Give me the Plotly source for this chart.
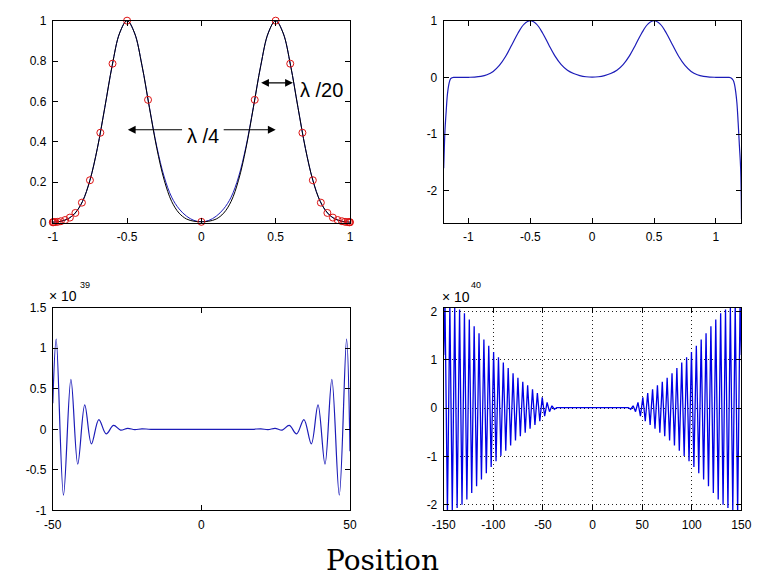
import plotly.graph_objects as go

# ---------------- data ----------------
# top-left: black reference curve, blue fitted curve, red sample points
tl_x = [-1.0, -0.95, -0.9, -0.85, -0.8, -0.75, -0.7, -0.65, -0.6, -0.55, -0.5,
        -0.45, -0.4, -0.35, -0.3, -0.25, -0.2, -0.15, -0.1, -0.05, 0.0,
        0.05, 0.1, 0.15, 0.2, 0.25, 0.3, 0.35, 0.4, 0.45, 0.5,
        0.55, 0.6, 0.65, 0.7, 0.75, 0.8, 0.85, 0.9, 0.95, 1.0]
tl_black = [0.002, 0.006, 0.018, 0.047, 0.105, 0.210, 0.368, 0.570, 0.779, 0.939, 1.000,
            0.939, 0.779, 0.570, 0.368, 0.210, 0.105, 0.047, 0.018, 0.007, 0.004,
            0.007, 0.018, 0.047, 0.105, 0.210, 0.368, 0.570, 0.779, 0.939, 1.000,
            0.939, 0.779, 0.570, 0.368, 0.210, 0.105, 0.047, 0.018, 0.006, 0.002]
tl_blue = [0.002, 0.006, 0.018, 0.047, 0.105, 0.210, 0.368, 0.570, 0.779, 0.939, 1.000,
           0.939, 0.779, 0.572, 0.376, 0.226, 0.126, 0.068, 0.032, 0.011, 0.004,
           0.011, 0.032, 0.068, 0.126, 0.226, 0.376, 0.572, 0.779, 0.939, 1.000,
           0.939, 0.779, 0.570, 0.368, 0.210, 0.105, 0.047, 0.018, 0.006, 0.002]
pts_x = [-1.0, -0.998, -0.993, -0.983, -0.967, -0.946, -0.917, -0.885, -0.848, -0.804,
         -0.75, -0.68, -0.598, -0.5, -0.359, 0.0, 0.359, 0.5, 0.598, 0.68, 0.75,
         0.804, 0.848, 0.885, 0.917, 0.946, 0.967, 0.983, 0.993, 0.998, 1.0]
pts_y = [0.002, 0.002, 0.002, 0.003, 0.004, 0.007, 0.013, 0.025, 0.048, 0.099,
         0.210, 0.445, 0.787, 1.0, 0.608, 0.004, 0.608, 1.0, 0.787, 0.445, 0.210,
         0.099, 0.048, 0.025, 0.013, 0.007, 0.004, 0.003, 0.002, 0.002, 0.002]

# top-right: fitted curve on the wider interval
tr_x = [-1.2, -1.195, -1.19, -1.18, -1.17, -1.16, -1.15, -1.14, -1.12, -1.1, -1.05,
        -1.0, -0.95, -0.9, -0.85, -0.8, -0.75, -0.7, -0.65, -0.6, -0.55, -0.5,
        -0.45, -0.4, -0.35, -0.3, -0.25, -0.2, -0.15, -0.1, -0.05, 0.0,
        0.05, 0.1, 0.15, 0.2, 0.25, 0.3, 0.35, 0.4, 0.45, 0.5,
        0.55, 0.6, 0.65, 0.7, 0.75, 0.8, 0.85, 0.9, 0.95, 1.0,
        1.05, 1.1, 1.12, 1.14, 1.15, 1.16, 1.17, 1.18, 1.19, 1.2, 1.207]
tr_y = [-1.6, -1.25, -0.95, -0.6, -0.3, -0.14, -0.05, -0.015, 0.0, 0.0, 0.0,
        0.002, 0.006, 0.018, 0.047, 0.105, 0.210, 0.368, 0.570, 0.779, 0.939, 1.000,
        0.939, 0.779, 0.572, 0.376, 0.226, 0.126, 0.068, 0.032, 0.011, 0.004,
        0.011, 0.032, 0.068, 0.126, 0.226, 0.376, 0.572, 0.779, 0.939, 1.000,
        0.939, 0.779, 0.570, 0.368, 0.210, 0.105, 0.047, 0.018, 0.006, 0.002,
        0.0, 0.0, -0.005, -0.05, -0.12, -0.25, -0.45, -0.8, -1.2, -1.6, -2.5]

# bottom-left: extrapolation to +/-50 (values x 1e39)
bl_x = [-50, -48.85, -46.4, -43.9, -41.6, -39.25, -37.0, -34.5, -32.05, -29.55,
        -27.2, -24.8, -22.4, -20.0, -17.0, 0, 17.0, 20.0, 22.4, 24.8, 27.2,
        29.55, 32.05, 34.5, 37.0, 39.25, 41.6, 43.9, 46.4, 48.85, 50]
bl_y = [0.32, 1.11, -0.81, 0.615, -0.43, 0.30, -0.18, 0.12, -0.056, 0.048,
        -0.01, 0.012, -0.004, 0.006, 0.0, 0.0, 0.0, 0.006, -0.004, 0.012, -0.01,
        0.048, -0.056, 0.12, -0.18, 0.30, -0.43, 0.615, -0.81, 1.11, -0.27]

# bottom-right: extrapolation to +/-150 (values x 1e40)
br_x = [-150, -148.7, -146.25, -143.8, -141.35, -138.9, -136.45, -134.0, -131.55,
        -129.1, -126.65, -124.2, -121.75, -119.3, -116.85, -114.4, -111.95, -109.5,
        -107.05, -104.6, -102.15, -99.7, -97.25, -94.8, -92.35, -89.9, -87.45,
        -85.0, -82.55, -80.1, -77.65, -75.2, -72.75, -70.3, -67.85, -65.4, -62.95,
        -60.5, -58.05, -55.6, -53.15, -50.7, -48.25, -45.8, -43.35, -40.9, -38.45,
        -36.0,
        36.0, 38.45, 40.9, 43.35, 45.8, 48.25, 50.7, 53.15, 55.6, 58.05, 60.5,
        62.95, 65.4, 67.85, 70.3, 72.75, 75.2, 77.65, 80.1, 82.55, 85.0, 87.45,
        89.9, 92.35, 94.8, 97.25, 99.7, 102.15, 104.6, 107.05, 109.5, 111.95,
        114.4, 116.85, 119.3, 121.75, 124.2, 126.65, 129.1, 131.55, 134.0, 136.45,
        138.9, 141.35, 143.8, 146.25, 148.7, 150]
br_y = [1.1, 2.18, -2.16, 2.14, -2.11, 2.09, -2.07, 2.04, -2.0,
        1.96, -1.89, 1.83, -1.76, 1.69, -1.62, 1.55, -1.48, 1.42,
        -1.35, 1.29, -1.22, 1.16, -1.1, 1.05, -0.99, 0.94, -0.885,
        0.83, -0.775, 0.72, -0.67, 0.625, -0.585, 0.545, -0.51, 0.47, -0.43,
        0.39, -0.35, 0.31, -0.27, 0.22, -0.17, 0.115, -0.075, 0.045, -0.025,
        0.01,
        0.01, -0.025, 0.045, -0.075, 0.115, -0.17, 0.22, -0.27, 0.31, -0.35, 0.39,
        -0.43, 0.47, -0.51, 0.545, -0.585, 0.625, -0.67, 0.72, -0.775, 0.83, -0.885,
        0.94, -0.99, 1.05, -1.1, 1.16, -1.22, 1.29, -1.35, 1.42, -1.48,
        1.55, -1.62, 1.69, -1.76, 1.83, -1.89, 1.96, -2.0, 2.04, -2.07,
        2.09, -2.11, 2.14, -2.16, 2.18, 1.1]

# tick labels
tl_xticks = [-1, -0.5, 0, 0.5, 1]
tl_xtext = ["-1", "-0.5", "0", "0.5", "1"]
tl_yticks = [0, 0.2, 0.4, 0.6, 0.8, 1]
tl_ytext = ["0", "0.2", "0.4", "0.6", "0.8", "1"]
tr_yticks = [-2, -1, 0, 1]
tr_ytext = ["-2", "-1", "0", "1"]
bl_xticks = [-50, 0, 50]
bl_xtext = ["-50", "0", "50"]
bl_yticks = [-1, -0.5, 0, 0.5, 1, 1.5]
bl_ytext = ["-1", "-0.5", "0", "0.5", "1", "1.5"]
br_xticks = [-150, -100, -50, 0, 50, 100, 150]
br_xtext = ["-150", "-100", "-50", "0", "50", "100", "150"]
br_yticks = [-2, -1, 0, 1, 2]
br_ytext = ["-2", "-1", "0", "1", "2"]

# ---------------- figure ----------------
W, H = 764, 577
BLUE = "#1c1cb8"

fig = go.Figure()
fig.add_trace(go.Scatter(x=tl_x, y=tl_blue, mode="lines", line=dict(color=BLUE, width=1, shape="spline"),
                         xaxis="x", yaxis="y"))
fig.add_trace(go.Scatter(x=tl_x, y=tl_black, mode="lines", line=dict(color="black", width=1, shape="spline"),
                         xaxis="x", yaxis="y"))
fig.add_trace(go.Scatter(x=pts_x, y=pts_y, mode="markers", cliponaxis=False,
                         marker=dict(symbol="circle-open", size=7, color="#dd1111", line=dict(width=1)),
                         xaxis="x", yaxis="y"))
fig.add_trace(go.Scatter(x=tr_x, y=tr_y, mode="lines", line=dict(color=BLUE, width=1.2, shape="spline"),
                         xaxis="x2", yaxis="y2"))
fig.add_trace(go.Scatter(x=bl_x, y=bl_y, mode="lines", line=dict(color=BLUE, width=1.2, shape="spline"),
                         xaxis="x3", yaxis="y3"))
fig.add_trace(go.Scatter(x=br_x, y=br_y, mode="lines", line=dict(color="#0000e6", width=1.3),
                         xaxis="x4", yaxis="y4"))

tickfont = dict(family="Liberation Sans, Arial, sans-serif", size=12, color="black")


def ax(rng, dom, anchor, vals, text, grid=False):
    return dict(range=rng, domain=dom, anchor=anchor, tickvals=vals, ticktext=text,
                showline=True, linecolor="black", linewidth=1, mirror="ticks",
                ticks="inside", ticklen=5, tickcolor="black", tickwidth=1,
                showgrid=grid, gridcolor="#222222", griddash="1px,3px", gridwidth=1,
                zeroline=False, tickfont=tickfont, ticklabelstandoff=3, fixedrange=True)


L_dom = [42 / W, 348 / W]
R_dom = [444.5 / W, 751 / W]
T_dom = [(H - 221) / H, (H - 14) / H]
B_dom = [(H - 516) / H, (H - 308) / H]

fig.update_layout(
    width=W, height=H, margin=dict(l=0, r=0, t=0, b=0),
    paper_bgcolor="white", plot_bgcolor="white", showlegend=False,
    xaxis=ax([-1, 1], L_dom, "y", tl_xticks, tl_xtext),
    yaxis=ax([0, 1], T_dom, "x", tl_yticks, tl_ytext),
    xaxis2=ax([-1.2, 1.206], R_dom, "y2", tl_xticks, tl_xtext),
    yaxis2=ax([-2.56, 1], T_dom, "x2", tr_yticks, tr_ytext),
    xaxis3=ax([-50, 50], L_dom, "y3", bl_xticks, bl_xtext),
    yaxis3=ax([-1, 1.5], B_dom, "x3", bl_yticks, bl_ytext),
    xaxis4=ax([-150, 150], R_dom, "y4", br_xticks, br_xtext, grid=True),
    yaxis4=ax([-2.12, 2.08], B_dom, "x4", br_yticks, br_ytext, grid=True),
)

ann = []
# lambda/4 double arrow (split around the label)
ann.append(dict(x=-0.495, y=0.46, ax=-0.12, ay=0.46, xref="x", yref="y", axref="x", ayref="y",
                text="", showarrow=True, arrowhead=2, arrowsize=1.3, arrowwidth=1.2, arrowcolor="black"))
ann.append(dict(x=0.5, y=0.46, ax=0.14, ay=0.46, xref="x", yref="y", axref="x", ayref="y",
                text="", showarrow=True, arrowhead=2, arrowsize=1.3, arrowwidth=1.2, arrowcolor="black"))
ann.append(dict(x=0.011, y=0.43, xref="x", yref="y", text="λ /4", showarrow=False,
                xanchor="center", yanchor="middle",
                font=dict(family="Liberation Sans, Arial", size=20, color="black")))
# lambda/20 double arrow
ann.append(dict(x=0.616, y=0.692, ax=0.392, ay=0.692, xref="x", yref="y", axref="x", ayref="y",
                text="", showarrow=True, arrowhead=2, arrowside="end+start", arrowsize=1.3,
                arrowwidth=1.2, arrowcolor="black"))
ann.append(dict(x=0.806, y=0.657, xref="x", yref="y", text="λ /20", showarrow=False,
                xanchor="center", yanchor="middle",
                font=dict(family="Liberation Sans, Arial", size=20, color="black")))
# exponent labels
small = dict(family="Liberation Sans, Arial", size=14, color="black")
tiny = dict(family="Liberation Sans, Arial", size=9, color="black")


def paper_text(px, py, txt, font):
    return dict(x=px / W, y=(H - py) / H, xref="paper", yref="paper", text=txt, showarrow=False,
                xanchor="center", yanchor="middle", font=font)


ann.append(paper_text(53, 296, "× 10", small))
ann.append(paper_text(75, 285, "39", tiny))
ann.append(paper_text(457, 297, "× 10", small))
ann.append(paper_text(478, 285, "40", tiny))
# overall x label
ann.append(paper_text(381, 567, "Position", dict(family="DejaVu Serif, serif", size=28, color="black")))
fig.update_layout(annotations=ann)

fig.write_html("out.html")
